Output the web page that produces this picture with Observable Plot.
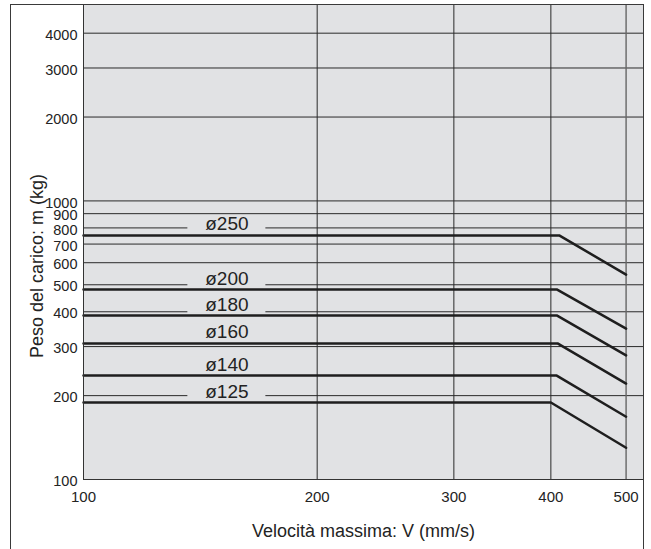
<!DOCTYPE html>
<html><head><meta charset="utf-8">
<script src="https://cdn.jsdelivr.net/npm/d3@7"></script>
<script src="https://cdn.jsdelivr.net/npm/@observablehq/plot@0.6"></script>
<style>
html,body{margin:0;padding:0;background:#fff;}
#wrap{position:relative;width:651px;height:549px;overflow:hidden;background:#fff;}
#wrap svg{display:block;}
#border{position:absolute;left:10px;top:4px;width:632px;height:620px;border:1px solid #3a3a3a;pointer-events:none;}
</style></head><body><div id="wrap"></div>
<script>
// Series (bore diameters)
const series = ["ø250", "ø200", "ø180", "ø160", "ø140", "ø125"];
// Speed (mm/s): start, knee, end
const speedStart = [100, 100, 100, 100, 100, 100];
const speedKnee = [410, 407, 407, 408, 407, 400];
const speedEnd = [500, 500, 500, 500, 500, 500];
// Load (kg): flat level and value at the end speed
const loadFlat = [752, 481, 388, 308, 236, 189];
const loadEnd = [544, 348, 279, 221, 168, 130];
// Label position along the speed axis
const labelSpeed = [153, 153, 153, 153, 153, 153];
// Ticks / grid
const xTicks = [100, 200, 300, 400, 500];
const yTicks = [100, 200, 300, 400, 500, 600, 700, 800, 900, 1000, 2000, 3000, 4000];
const xGrid = [200, 300, 400];
const xGridLight = [500];
const yGrid = [200, 300, 400, 500, 600, 700, 800, 900, 1000, 2000, 3000, 4000];
const xTitle = "Velocità massima: V (mm/s)";
const yTitle = "Peso del carico: m (kg)";

const points = [];
series.forEach((s, i) => {
  points.push({series: s, v: speedStart[i], m: loadFlat[i]});
  points.push({series: s, v: speedKnee[i], m: loadFlat[i]});
  points.push({series: s, v: speedEnd[i], m: loadEnd[i]});
});
const labels = series.map((s, i) => ({series: s, v: labelSpeed[i], m: loadFlat[i]}));

const bg = "#e1e2e4";
const ink = "#232323";
const font = "'Liberation Sans', Arial, Helvetica, sans-serif";

const chart = Plot.plot({
  width: 651,
  height: 549,
  marginLeft: 83,
  marginRight: 8,
  marginTop: 4,
  marginBottom: 70,
  style: {fontFamily: font, fontSize: "15px", color: ink, background: "transparent"},
  x: {type: "log", domain: [100, 526.5], axis: null},
  y: {type: "log", domain: [100, 5070], axis: null},
  marks: [
    Plot.frame({fill: bg}),
    Plot.ruleY(yGrid, {stroke: "#2a2a2a", strokeWidth: 1}),
    Plot.ruleX(xGrid, {stroke: "#2a2a2a", strokeWidth: 1}),
    Plot.ruleX(xGridLight, {stroke: "#666", strokeWidth: 1.4}),
    Plot.rect(labels, {x1: "v", x2: "v", y1: "m", y2: "m", fill: bg, insetLeft: -39, insetRight: -39, insetTop: -19, insetBottom: 2}),
    Plot.line(points, {x: "v", y: "m", z: "series", stroke: "#1e1e1e", strokeWidth: 2.5}),
    Plot.text(labels, {x: "v", y: "m", text: "series", dy: -11, fontSize: 19, fill: ink, fontFamily: font}),
    Plot.frame({stroke: "#333", strokeWidth: 1}),
    // y tick labels
    Plot.text(yTicks, {y: d => d, frameAnchor: "left", text: d => String(d), textAnchor: "end", lineAnchor: "middle", dx: -6, dy: 2, fontSize: 14.5, fill: ink, fontFamily: font}),
    // x tick labels
    Plot.text(xTicks, {x: d => d, frameAnchor: "bottom", text: d => String(d), textAnchor: "middle", lineAnchor: "middle", dy: 18, fontSize: 15, fill: ink, fontFamily: font}),
    Plot.text([xTitle], {frameAnchor: "bottom", text: d => d, textAnchor: "middle", lineAnchor: "middle", dy: 52, fontSize: 18, fill: ink, fontFamily: font}),
    Plot.text([yTitle], {frameAnchor: "left", text: d => d, textAnchor: "middle", lineAnchor: "middle", rotate: -90, dx: -46, dy: 24, fontSize: 18, fill: ink, fontFamily: font})
  ]
});
const wrap = document.getElementById("wrap");
wrap.appendChild(chart);
const border = document.createElement("div");
border.id = "border";
wrap.appendChild(border);
</script>
</body></html>
